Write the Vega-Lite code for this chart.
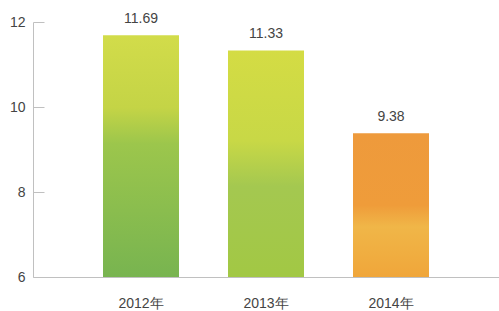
{
  "$schema": "https://vega.github.io/schema/vega-lite/v6.json",
  "width": 466,
  "height": 255,
  "autosize": {"type": "none"},
  "padding": {"left": 33, "top": 22, "right": 0, "bottom": 34},
  "background": "white",
  "data": {"values": [
    {"year": "2012年", "value": 11.69},
    {"year": "2013年", "value": 11.33},
    {"year": "2014年", "value": 9.38}
  ]},
  "config": {
    "view": {"stroke": null},
    "font": "Liberation Sans",
    "axis": {"grid": false, "domainColor": "#c0c0c0", "tickColor": "#c0c0c0", "labelColor": "#444444", "labelFont": "Liberation Sans", "labelFontSize": 14, "title": null}
  },
  "encoding": {
    "x": {"field": "year", "type": "nominal", "sort": null,
      "scale": {"paddingInner": 0.392, "paddingOuter": 0.56},
      "axis": {"labelAngle": 0, "ticks": false, "labelPadding": 19, "domainWidth": 1}},
    "y": {"field": "value", "type": "quantitative",
      "scale": {"domain": [6, 12], "zero": false, "nice": false},
      "axis": {"values": [6, 8, 10, 12], "tickSize": -11, "labelPadding": 19}}
  },
  "layer": [
    {
      "transform": [{"filter": "datum.year == '2012年'"}],
      "mark": {"type": "bar", "color": {"gradient": "linear", "x1": 0, "y1": 0, "x2": 0, "y2": 1,
        "stops": [{"offset": 0, "color": "#d2dc4a"}, {"offset": 0.3, "color": "#c4d446"}, {"offset": 0.45, "color": "#9cc64c"}, {"offset": 1, "color": "#78b450"}]}},
      "encoding": {"y2": {"datum": 6}}
    },
    {
      "transform": [{"filter": "datum.year == '2013年'"}],
      "mark": {"type": "bar", "color": {"gradient": "linear", "x1": 0, "y1": 0, "x2": 0, "y2": 1,
        "stops": [{"offset": 0, "color": "#d4dc44"}, {"offset": 0.4, "color": "#c8d846"}, {"offset": 0.6, "color": "#a4c850"}, {"offset": 1, "color": "#a2c844"}]}},
      "encoding": {"y2": {"datum": 6}}
    },
    {
      "transform": [{"filter": "datum.year == '2014年'"}],
      "mark": {"type": "bar", "color": {"gradient": "linear", "x1": 0, "y1": 0, "x2": 0, "y2": 1,
        "stops": [{"offset": 0, "color": "#ee9a3c"}, {"offset": 0.5, "color": "#ef9c3a"}, {"offset": 0.65, "color": "#f0b648"}, {"offset": 1, "color": "#f0a63a"}]}},
      "encoding": {"y2": {"datum": 6}}
    },
    {
      "mark": {"type": "text", "baseline": "bottom", "dy": -9, "fontSize": 14, "color": "#444444", "font": "Liberation Sans"},
      "encoding": {"text": {"field": "value", "type": "quantitative", "format": ".2f"}}
    }
  ]
}
